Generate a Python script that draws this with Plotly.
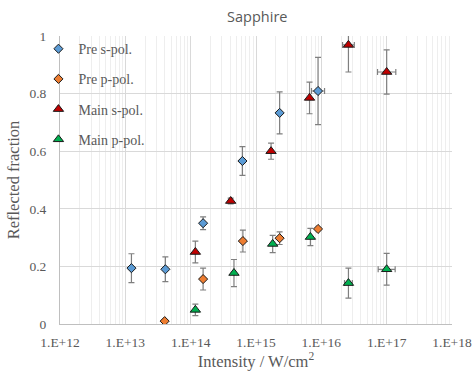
import plotly.graph_objects as go

# Reflected fraction vs. intensity for sapphire (x in W/cm^2)
pre_s_x = [1.24e13, 4.1e13, 1.55e14, 6.2e14, 2.3e15, 8.9e15]
pre_s_y = [0.194, 0.19, 0.35, 0.566, 0.733, 0.809]
pre_s_yerr = [0.05, 0.043, 0.022, 0.05, 0.073, 0.117]
pre_s_xerr_dex = [0, 0, 0, 0, 0, 0.1]

pre_p_x = [4.0e13, 1.55e14, 6.3e14, 2.3e15, 8.9e15]
pre_p_y = [0.01, 0.156, 0.288, 0.298, 0.33]
pre_p_yerr = [0, 0.038, 0.038, 0.022, 0]
pre_p_xerr_dex = [0, 0, 0, 0, 0]

main_s_x = [1.18e14, 4.1e14, 1.7e15, 6.6e15, 2.6e16, 1.0e17]
main_s_y = [0.25, 0.427, 0.6, 0.785, 0.969, 0.875]
main_s_yerr = [0.038, 0.01, 0.028, 0.055, 0.094, 0.077]
main_s_xerr_dex = [0, 0, 0, 0, 0.09, 0.14]

main_p_x = [1.18e14, 4.6e14, 1.8e15, 6.8e15, 2.6e16, 1.0e17]
main_p_y = [0.049, 0.177, 0.278, 0.302, 0.142, 0.19]
main_p_yerr = [0.02, 0.047, 0.03, 0.03, 0.052, 0.055]
main_p_xerr_dex = [0, 0, 0, 0, 0.06, 0.13]

x_decades = [12, 13, 14, 15, 16, 17, 18]
x_tick_text = ["1.E+%d" % d for d in x_decades]
y_ticks = [0, 0.2, 0.4, 0.6, 0.8, 1]
y_tick_text = ["0", "0.2", "0.4", "0.6", "0.8", "1"]

GRAY_TEXT = "#595959"
SERIF = "Liberation Serif"


def x_errors(xs, dex):
    plus = [x * (10 ** d - 1) for x, d in zip(xs, dex)]
    minus = [x * (1 - 10 ** (-d)) for x, d in zip(xs, dex)]
    return plus, minus


series = [
    ("Pre s-pol.", pre_s_x, pre_s_y, pre_s_yerr, pre_s_xerr_dex, "diamond", "#5B9BD5", 7),
    ("Pre p-pol.", pre_p_x, pre_p_y, pre_p_yerr, pre_p_xerr_dex, "diamond", "#ED7D31", 7),
    ("Main s-pol.", main_s_x, main_s_y, main_s_yerr, main_s_xerr_dex, "triangle-up", "#C00000", 9),
    ("Main p-pol.", main_p_x, main_p_y, main_p_yerr, main_p_xerr_dex, "triangle-up", "#00B050", 9),
]

fig = go.Figure()
for name, xs, ys, yerr, xdex, sym, col, size in series:
    xp, xm = x_errors(xs, xdex)
    fig.add_trace(go.Scatter(
        x=xs, y=ys, mode="markers", name=name, legendgroup=name,
        marker=dict(symbol=sym, color=col, size=size,
                    line=dict(color="#1a1a1a", width=1)),
        error_y=dict(type="data", array=yerr, visible=True,
                     color="#7f7f7f", thickness=1.2, width=3),
        error_x=dict(type="data", array=xp, arrayminus=xm, visible=True,
                     color="#7f7f7f", thickness=1.2, width=3),
    ))

minor_vals = [m * 10 ** d for d in x_decades[:-1] for m in range(2, 10)]

fig.update_layout(
    width=473, height=374,
    margin=dict(l=59.5, r=21, t=36, b=50),
    paper_bgcolor="white", plot_bgcolor="white",
    title=dict(text="Sapphire", x=0.544, xanchor="center", y=0.955, yanchor="middle",
               font=dict(family="Open Sans", size=14.5, color=GRAY_TEXT)),
    showlegend=True,
    legend=dict(x=-0.055, y=1.01, xanchor="left", yanchor="top",
                bgcolor="rgba(0,0,0,0)", tracegroupgap=9,
                traceorder="grouped",
                font=dict(family=SERIF, size=14, color=GRAY_TEXT)),
    xaxis=dict(
        type="log", range=[12, 18], automargin=False,
        tickmode="array", tickvals=[10 ** d for d in x_decades], ticktext=x_tick_text,
        showgrid=True, gridcolor="#d9d9d9", gridwidth=1,
        showline=True, linecolor="#bfbfbf", linewidth=1,
        ticks="", zeroline=False, ticklabelstandoff=6,
        minor=dict(tickmode="array", tickvals=minor_vals, showgrid=True,
                   gridcolor="#eeeeee", gridwidth=1, ticks=""),
        tickfont=dict(family=SERIF, size=13.5, color=GRAY_TEXT),
        title=dict(text="Intensity / W/cm<sup>2</sup>", standoff=4,
                   font=dict(family=SERIF, size=16.5, color=GRAY_TEXT)),
    ),
    yaxis=dict(
        range=[0, 1], tickmode="array", tickvals=y_ticks, ticktext=y_tick_text,
        automargin=False,
        showgrid=True, gridcolor="#d9d9d9", gridwidth=1,
        showline=True, linecolor="#bfbfbf", linewidth=1,
        ticks="", zeroline=False, ticklabelstandoff=10,
        tickfont=dict(family=SERIF, size=13.5, color=GRAY_TEXT),
        title=dict(text="Reflected fraction", standoff=5,
                   font=dict(family=SERIF, size=16.5, color=GRAY_TEXT)),
    ),
)

fig.write_html("out.html")
